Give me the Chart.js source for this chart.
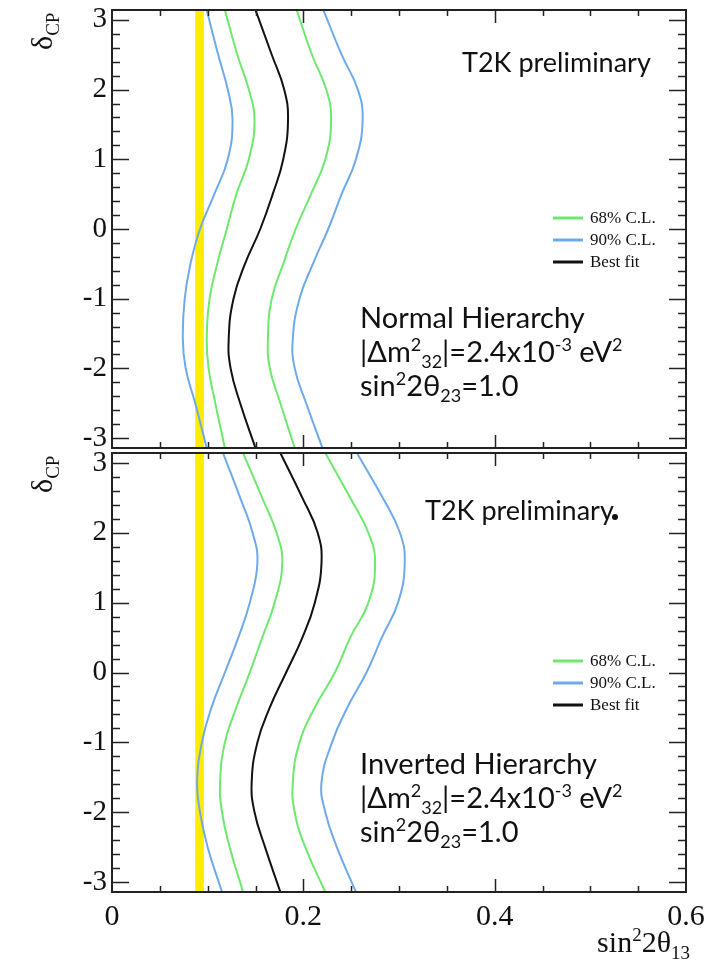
<!DOCTYPE html>
<html>
<head>
<meta charset="utf-8">
<script src="https://cdn.jsdelivr.net/npm/chart.js@4.4.1/dist/chart.umd.min.js"></script>
<style>
  html, body { margin: 0; padding: 0; background: #fff; }
  #wrap { position: relative; width: 722px; height: 966px; }
  #nh { position: absolute; left: 0; top: 0; }
  #ih { position: absolute; left: 0; top: 450px; }
</style>
</head>
<body>
<div id="wrap">
  <canvas id="nh" width="722" height="450"></canvas>
  <canvas id="ih" width="722" height="516"></canvas>
</div>
<script>
// delta_CP sampling of the contours (radians, -pi .. pi)
const deltaCP = [-3.1416, -2.5, -2, -1.57, -1, -0.5, 0, 0.5, 1, 1.57, 2, 2.5, 3.1416];

// Normal hierarchy: sin^2 2theta13 at each deltaCP
const nhBlueLeft  = [0.099, 0.087, 0.077, 0.074, 0.076, 0.082, 0.092, 0.107, 0.121, 0.126, 0.121, 0.111, 0.099];
const nhGreenLeft = [0.118, 0.108, 0.101, 0.099, 0.102, 0.110, 0.120, 0.130, 0.143, 0.149, 0.143, 0.131, 0.118];
const nhBest      = [0.150, 0.134, 0.124, 0.122, 0.127, 0.139, 0.155, 0.168, 0.179, 0.184, 0.180, 0.167, 0.150];
const nhGreenRight= [0.191, 0.176, 0.165, 0.163, 0.167, 0.179, 0.192, 0.208, 0.223, 0.229, 0.224, 0.209, 0.193];
const nhBlueRight = [0.220, 0.203, 0.191, 0.189, 0.196, 0.210, 0.226, 0.240, 0.255, 0.262, 0.257, 0.240, 0.221];

// Inverted hierarchy
const ihBlueLeft  = [0.115, 0.100, 0.092, 0.089, 0.094, 0.104, 0.118, 0.132, 0.144, 0.152, 0.147, 0.134, 0.116];
const ihGreenLeft = [0.137, 0.123, 0.115, 0.113, 0.118, 0.130, 0.144, 0.157, 0.170, 0.178, 0.172, 0.157, 0.137];
const ihBest      = [0.176, 0.160, 0.149, 0.146, 0.152, 0.165, 0.182, 0.199, 0.212, 0.219, 0.215, 0.199, 0.176];
const ihGreenRight= [0.223, 0.202, 0.191, 0.189, 0.196, 0.212, 0.233, 0.249, 0.268, 0.275, 0.268, 0.249, 0.223];
const ihBlueRight = [0.255, 0.235, 0.223, 0.219, 0.230, 0.246, 0.266, 0.282, 0.299, 0.306, 0.301, 0.283, 0.256];

// reactor sin^2 2theta13 band
const reactorBand = [0.087, 0.096];

const xTicks = [0, 0.2, 0.4, 0.6];
const yTicks = [-3, -2, -1, 0, 1, 2, 3];
const legendLabels = ['68% C.L.', '90% C.L.', 'Best fit'];

const GREEN = '#6ee86e';
const BLUE = '#6eaaea';
const BLACK = '#111111';
const SERIF = '"Liberation Serif", "DejaVu Serif", serif';
const SANS = 'Lato, "Open Sans", sans-serif';

const pts = xs => xs.map((v, i) => ({ x: v, y: deltaCP[i] }));

// contours are functions of deltaCP: one smoothed line per contour edge
function contourSets(bl, gl, best, gr, br) {
  const mk = (xs, color) => ({ data: pts(xs), borderColor: color, fill: false, tension: 0.45 });
  return [mk(bl, BLUE), mk(gl, GREEN), mk(best, BLACK), mk(gr, GREEN), mk(br, BLUE)];
}

// text made of normal / superscript / subscript runs
function drawRuns(ctx, x, y, runs, size, family) {
  for (const [t, kind] of runs) {
    const s = kind === 'n' ? size : Math.round(size * 0.62);
    const dy = kind === 'sup' ? -size * 0.38 : kind === 'sub' ? size * 0.22 : 0;
    ctx.font = s + 'px ' + family;
    ctx.fillText(t, x, y + dy);
    x += ctx.measureText(t).width;
  }
  return x;
}

function panelDecor(cfg) {
  return {
    id: 'panelDecor',
    beforeDatasetsDraw(chart) {
      const { ctx, chartArea: a, scales: { x } } = chart;
      const x0 = x.getPixelForValue(reactorBand[0]);
      const x1 = x.getPixelForValue(reactorBand[1]);
      ctx.save();
      ctx.fillStyle = '#ffec00';
      ctx.fillRect(x0, a.top, x1 - x0, a.bottom - a.top);
      ctx.restore();
    },
    afterDraw(chart) {
      const { ctx, chartArea: a, scales: { x, y } } = chart;
      ctx.save();
      ctx.strokeStyle = '#222';
      ctx.lineWidth = 2;
      ctx.strokeRect(a.left, a.top, a.right - a.left, a.bottom - a.top);

      // inner tick marks on all four sides
      ctx.lineWidth = 1.5;
      ctx.beginPath();
      for (let i = -15; i <= 15; i++) {
        const v = i / 5;
        const py = Math.round(y.getPixelForValue(v)) + 0.5;
        const len = i % 5 === 0 ? 17 : 8;
        ctx.moveTo(a.left, py); ctx.lineTo(a.left + len, py);
        ctx.moveTo(a.right, py); ctx.lineTo(a.right - len, py);
      }
      for (let i = 1; i < 12; i++) {
        const v = i * 0.05;
        const px = Math.round(x.getPixelForValue(v)) + 0.5;
        const len = i % 4 === 0 ? 13 : 6;
        ctx.moveTo(px, a.top); ctx.lineTo(px, a.top + len);
        ctx.moveTo(px, a.bottom); ctx.lineTo(px, a.bottom - len);
      }
      ctx.stroke();

      // legend
      const colors = [GREEN, BLUE, BLACK];
      ctx.font = '17px ' + SERIF;
      ctx.textBaseline = 'middle';
      legendLabels.forEach((lab, i) => {
        const ly = cfg.legendY + i * 22;
        ctx.strokeStyle = colors[i];
        ctx.lineWidth = 3;
        ctx.beginPath();
        ctx.moveTo(553, ly); ctx.lineTo(583, ly);
        ctx.stroke();
        ctx.fillStyle = '#111';
        ctx.fillText(lab, 590, ly + 1);
      });

      ctx.textBaseline = 'alphabetic';
      ctx.fillStyle = '#111';
      ctx.font = '27px ' + SANS;
      ctx.fillText('T2K preliminary', cfg.t2kX, cfg.t2kY);
      if (cfg.dot) {
        ctx.beginPath();
        ctx.arc(cfg.dot[0], cfg.dot[1], 3, 0, Math.PI * 2);
        ctx.fill();
      }

      const fs = 29;
      ctx.font = fs + 'px ' + SANS;
      ctx.fillText(cfg.hierarchy, 360, cfg.textY);
      drawRuns(ctx, 360, cfg.textY + 34, [['|Δm', 'n'], ['2', 'sup'], ['32', 'sub'], ['|=2.4x10', 'n'], ['-3', 'sup'], [' eV', 'n'], ['2', 'sup']], fs, SANS);
      drawRuns(ctx, 360, cfg.textY + 68, [['sin', 'n'], ['2', 'sup'], ['2θ', 'n'], ['23', 'sub'], ['=1.0', 'n']], fs, SANS);

      // rotated y-axis title
      ctx.save();
      ctx.translate(52, cfg.titleY);
      ctx.rotate(-Math.PI / 2);
      drawRuns(ctx, 0, 0, [['δ', 'n'], ['CP', 'sub']], 30, SERIF);
      ctx.restore();

      if (cfg.xTitle) {
        const runs = [['sin', 'n'], ['2', 'sup'], ['2θ', 'n'], ['13', 'sub']];
        const w = drawRuns(ctx, -1000, -1000, runs, 30, SERIF) + 1000;
        drawRuns(ctx, 690 - w, cfg.xTitle, runs, 30, SERIF);
      }
      ctx.restore();
    }
  };
}

function panelOptions(bottom) {
  return {
    responsive: false,
    animation: false,
    indexAxis: 'y',
    layout: { padding: { left: 0, right: 36, top: bottom ? 3 : 10, bottom: bottom ? 0 : 2 } },
    plugins: { legend: { display: false }, tooltip: { enabled: false } },
    elements: { point: { radius: 0 }, line: { borderWidth: 2 } },
    scales: {
      x: {
        type: 'linear', position: 'bottom', min: 0, max: 0.6, display: bottom,
        grid: { display: false, drawTicks: false }, border: { display: false },
        afterBuildTicks: s => { s.ticks = xTicks.map(v => ({ value: v })); },
        afterFit: s => { if (bottom) s.height = 74; s.paddingLeft = 0; s.paddingRight = 0; },
        ticks: {
          padding: 7, autoSkip: false, maxRotation: 0, color: '#111',
          font: { family: SERIF, size: 30 },
          callback: v => v === 0 ? '0' : v.toFixed(1)
        }
      },
      y: {
        type: 'linear', position: 'left', min: -Math.PI, max: Math.PI,
        grid: { display: false, drawTicks: false }, border: { display: false },
        afterBuildTicks: s => { s.ticks = yTicks.map(v => ({ value: v })); },
        afterFit: s => { s.width = 112; s.paddingTop = 0; s.paddingBottom = 0; },
        ticks: {
          padding: 5, autoSkip: false, color: '#111',
          font: { family: SERIF, size: 29 },
          callback: v => String(v)
        }
      }
    }
  };
}

new Chart(document.getElementById('nh'), {
  type: 'line',
  data: { datasets: contourSets(nhBlueLeft, nhGreenLeft, nhBest, nhGreenRight, nhBlueRight) },
  options: panelOptions(false),
  plugins: [panelDecor({
    legendY: 218, t2kX: 462, t2kY: 72,
    hierarchy: 'Normal Hierarchy', textY: 328, titleY: 50
  })]
});

new Chart(document.getElementById('ih'), {
  type: 'line',
  data: { datasets: contourSets(ihBlueLeft, ihGreenLeft, ihBest, ihGreenRight, ihBlueRight) },
  options: panelOptions(true),
  plugins: [panelDecor({
    legendY: 211, t2kX: 425, t2kY: 70, dot: [615, 67],
    hierarchy: 'Inverted Hierarchy', textY: 324, titleY: 43, xTitle: 502
  })]
});
</script>
</body>
</html>
